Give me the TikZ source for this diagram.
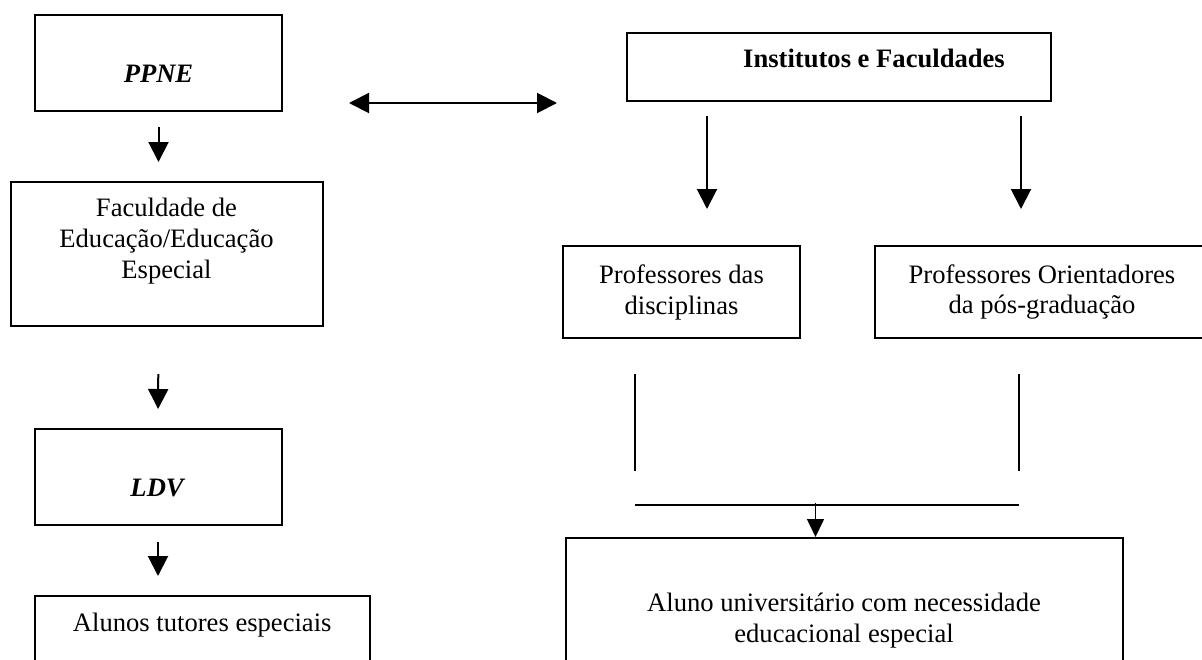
\documentclass[tikz,border=0pt]{standalone}
\usepackage{fontspec}
\setmainfont{Liberation Serif}
\usetikzlibrary{arrows.meta}

\begin{document}
\begin{tikzpicture}[
    x=1pt, y=-1pt,
    box/.style={draw, line width=2pt, align=center, inner sep=0pt,
                font=\fontsize{26.6}{31}\selectfont},
    arrow/.style={-{Triangle[length=20pt, width=20pt]}, line width=2pt},
    biarrow/.style={{Triangle[length=20pt, width=20pt]}-{Triangle[length=20pt, width=20pt]}, line width=2pt},
    smallarrow/.style={-{Triangle[length=18pt, width=17pt]}, line width=1.6pt},
    joint/.style={line width=2pt}
]
    \useasboundingbox (0,0) rectangle (1202,659);
    \clip (0,0) rectangle (1202,659);

    % left column
    \node[box, minimum width=247pt, minimum height=96pt, text height=38pt, text depth=0pt]
        (ppne) at (158.5,63) {\textbf{\textit{PPNE}}};
    \node[box, minimum width=312pt, minimum height=144pt]
        (fac) at (166.5,254) {Faculdade de\\Educação/Educação\\Especial\\ \mbox{}};
    \node[box, minimum width=247pt, minimum height=96pt, text height=38pt, text depth=0pt]
        (ldv) at (158,477) {\textbf{\textit{LDV}}};
    \node[box, minimum width=335.5pt, minimum height=104pt, text height=0pt, text depth=34pt]
        (alunos) at (202.25,648) {Alunos tutores especiais};

    % right column
    \node[box, minimum width=424pt, minimum height=68pt, text height=18pt, text depth=17pt]
        (inst) at (839,67) {\hspace*{70pt}\textbf{Institutos e Faculdades}};
    \node[box, minimum width=237pt, minimum height=92pt]
        (prof1) at (681.5,292) {Professores das\\disciplinas};
    \node[box, minimum width=334pt, minimum height=92pt]
        (prof2) at (1042,292) {Professores Orientadores\\da pós-graduação};
    \node[box, minimum width=557pt, minimum height=166pt]
        (aluno) at (844,621) {Aluno universitário com necessidade\\educacional especial};

    % arrows
    \draw[arrow, shorten <=15pt, shorten >=19pt] (ppne.south) -- (ppne.south |- fac.north);
    \draw[arrow, shorten <=47pt, shorten >=19pt] (fac.south -| ppne.south) -- (ldv.north);
    \draw[arrow, shorten <=16pt, shorten >=19pt] (ldv.south) -- (ldv.south |- alunos.north);
    \draw[biarrow, shorten <=66pt, shorten >=69pt]
        ([yshift=-40pt]ppne.east) -- ([yshift=-40pt]ppne.east -| inst.west);
    \draw[arrow, shorten <=14pt, shorten >=36pt]
        ([xshift=-132pt]inst.south) -- ([xshift=-132pt]inst.south |- prof1.north);
    \draw[arrow, shorten <=14pt, shorten >=36pt]
        ([xshift=182pt]inst.south) -- ([xshift=182pt]inst.south |- prof2.north);

    % joining lines
    \coordinate (jl) at (635,505);
    \coordinate (jr) at (1019,505);
    \coordinate (jm) at (815.5,505);
    \draw[joint, shorten <=35pt, shorten >=34pt] (jl |- prof1.south) -- (jl);
    \draw[joint, shorten <=35pt, shorten >=34pt] (jr |- prof2.south) -- (jr);
    \draw[joint] (jl) -- (jr);
    \draw[smallarrow, shorten <=-2pt] (jm) -- (jm |- aluno.north);
\end{tikzpicture}
\end{document}
